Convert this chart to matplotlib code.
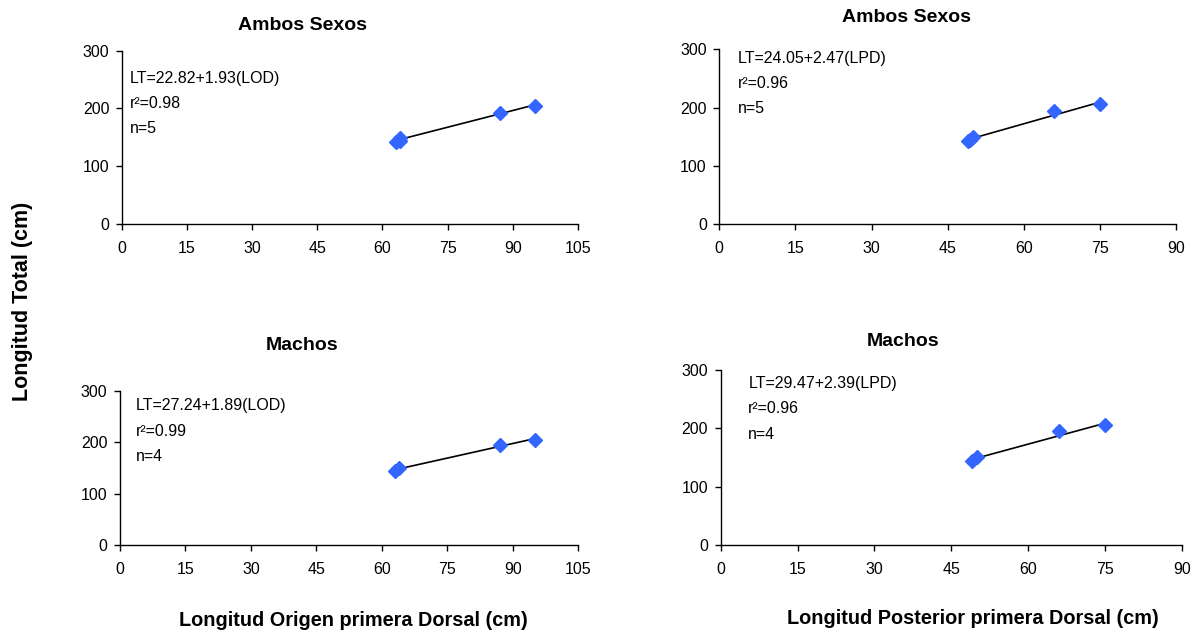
import matplotlib.pyplot as plt
import numpy as np

plt.rcParams['font.family'] = ['Liberation Sans', 'DejaVu Sans']

# LOD (left) and LPD (right) vs LT
lod_ambos = [63, 64, 64, 87, 95]
lt_lod_ambos = [142, 143, 149, 193, 205]
lod_machos = [63, 64, 87, 95]
lt_lod_machos = [144, 150, 194, 204]

lpd_ambos = [49, 49.5, 50, 66, 75]
lpd_lt_ambos = [143, 145, 150, 194, 206]
lpd_machos = [49, 50, 66, 75]
lpd_lt_machos = [144, 151, 195, 206]

fits = [(22.82, 1.93), (24.05, 2.47), (27.24, 1.89), (29.47, 2.39)]
eqs = ["LT=22.82+1.93(LOD)\nr\u00b2=0.98\nn=5",
       "LT=24.05+2.47(LPD)\nr\u00b2=0.96\nn=5",
       "LT=27.24+1.89(LOD)\nr\u00b2=0.99\nn=4",
       "LT=29.47+2.39(LPD)\nr\u00b2=0.96\nn=4"]
titles = ["Ambos Sexos", "Ambos Sexos", "Machos", "Machos"]
yticks = [0, 100, 200, 300]


def draw_panel(fig, rect, x, y, fit, eq, xmax, text_pos):
    ax = fig.add_axes(rect)
    a, b = fit
    xs = np.array([min(x), max(x)])
    ax.plot(xs, a + b * xs, color='black', lw=1.2, zorder=2)
    ax.plot(x, y, 'D', color='#3366ff', ms=7, mec='#3366ff', zorder=3)
    ax.set_xlim(0, xmax)
    ax.set_ylim(0, 300)
    ax.set_xticks(np.arange(0, xmax + 1, 15))
    ax.set_yticks(yticks)
    for s in ['top', 'right']:
        ax.spines[s].set_visible(False)
    for s in ['left', 'bottom']:
        ax.spines[s].set_linewidth(1.0)
    ax.tick_params(labelsize=11.5, length=4, width=1)
    ax.tick_params(axis='x', pad=8)
    ax.tick_params(axis='y', pad=5)
    ax.text(text_pos[0], text_pos[1], eq, transform=ax.transAxes,
            fontsize=11.5, va='top', ha='left', linespacing=1.85)
    return ax


fig = plt.figure(figsize=(11.96, 6.33), dpi=100)

draw_panel(fig, [0.1018, 0.6461, 0.3815, 0.2738], lod_ambos, lt_lod_ambos,
           fits[0], eqs[0], 105, (0.017, 0.885))
draw_panel(fig, [0.6014, 0.6457, 0.3819, 0.2765], lpd_ambos, lpd_lt_ambos,
           fits[1], eqs[1], 90, (0.04, 0.99))
draw_panel(fig, [0.1003, 0.1390, 0.3832, 0.2438], lod_machos, lt_lod_machos,
           fits[2], eqs[2], 105, (0.035, 0.95))
draw_panel(fig, [0.6026, 0.1390, 0.3855, 0.2765], lpd_machos, lpd_lt_machos,
           fits[3], eqs[3], 90, (0.06, 0.965))

fig.text(303 / 1196, 1 - 25 / 633, titles[0], fontsize=14, fontweight='bold',
         ha='center', va='center')
fig.text(906 / 1196, 1 - 18 / 633, titles[1], fontsize=14, fontweight='bold',
         ha='center', va='center')
fig.text(302 / 1196, 1 - 345 / 633, titles[2], fontsize=14, fontweight='bold',
         ha='center', va='center')
fig.text(903 / 1196, 1 - 341 / 633, titles[3], fontsize=14, fontweight='bold',
         ha='center', va='center')

fig.text(23 / 1196, 1 - 301 / 633, "Longitud Total (cm)", fontsize=15.5,
         fontweight='bold', rotation=90, ha='center', va='center')
fig.text(353 / 1196, 1 - 621 / 633, "Longitud Origen primera Dorsal (cm)",
         fontsize=14.3, fontweight='bold', ha='center', va='center')
fig.text(973 / 1196, 1 - 618 / 633, "Longitud Posterior primera Dorsal (cm)",
         fontsize=14.3, fontweight='bold', ha='center', va='center')

fig.savefig("out.png", dpi=100)
